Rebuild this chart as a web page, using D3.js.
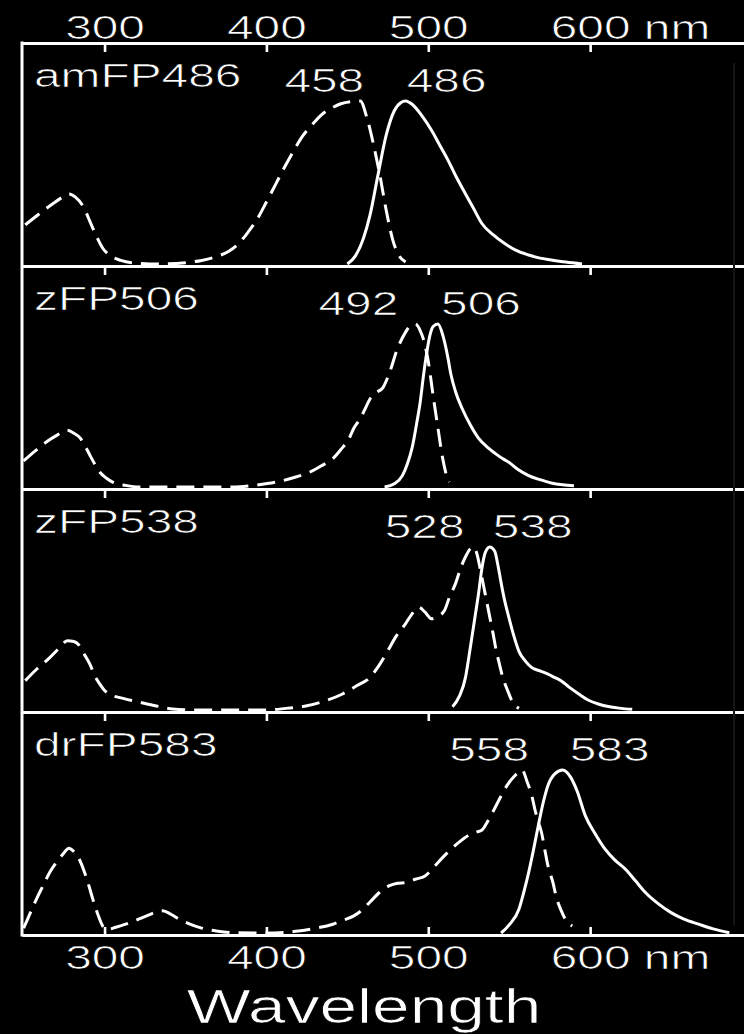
<!DOCTYPE html>
<html>
<head>
<meta charset="utf-8">
<script src="https://cdn.jsdelivr.net/npm/d3@7"></script>
<style>
  html, body { margin: 0; padding: 0; background: #000; }
  svg { display: block; }
</style>
</head>
<body>
<svg id="chart" width="744" height="1034"></svg>
<script>
// ---- data ----------------------------------------------------------
const proteins = ["amFP486", "zFP506", "zFP538", "drFP583"];
const excitationPeaks = [458, 492, 528, 558];
const emissionPeaks = [486, 506, 538, 583];
const axisTicks = [300, 400, 500, 600];
const axisUnit = "nm";
const axisTitle = "Wavelength";

// normalized excitation spectra: [wavelength (nm), relative intensity]
const excitationAmFP486 = [
  [251,0.24],[260,0.31],[268,0.37],[274,0.41],[278,0.43],[282,0.41],[287,0.35],[291,0.26],
  [295,0.17],[299,0.095],[303,0.055],[310,0.022],[318,0.007],[334,0.0],[350,0.008],[360,0.022],
  [369,0.045],[377,0.08],[383,0.127],[389,0.2],[394,0.27],[400,0.38],[406,0.495],[411,0.59],
  [416,0.68],[422,0.78],[429,0.863],[434,0.915],[440,0.955],[446,0.983],[452,0.996],[458,1.0],
  [462,0.9],[466,0.74],[470,0.55],[474,0.33],[478,0.15],[482,0.05],[486,0.012]
];
const excitationZFP506 = [
  [250,0.16],[257,0.22],[264,0.276],[271,0.32],[277,0.348],[281,0.33],[285,0.3],[288,0.25],
  [291,0.194],[294,0.14],[297,0.092],[301,0.055],[305,0.03],[313,0.01],[322,0.0],[342,0.0],
  [360,0.0],[379,0.0],[392,0.01],[406,0.03],[416,0.055],[427,0.092],[434,0.13],[441,0.174],
  [446,0.23],[451,0.296],[454,0.36],[458,0.42],[461,0.48],[464,0.54],[468,0.58],[472,0.61],
  [476,0.7],[481,0.85],[486,0.95],[489,0.99],[492,1.0],[495,0.96],[498,0.87],[500,0.77],
  [503,0.56],[506,0.36],[509,0.17],[512,0.05],[513,0.03]
];
const excitationZFP538 = [
  [251,0.18],[258,0.25],[266,0.32],[272,0.38],[277,0.425],[281,0.42],[284,0.4],[287,0.35],
  [291,0.28],[294,0.21],[297,0.16],[300,0.12],[303,0.098],[312,0.07],[322,0.047],[332,0.025],
  [342,0.006],[355,0.0],[369,0.0],[385,0.0],[400,0.0],[412,0.01],[425,0.026],[436,0.055],
  [447,0.098],[456,0.15],[464,0.2],[470,0.28],[475,0.364],[480,0.45],[486,0.53],[490,0.59],
  [494,0.63],[498,0.6],[502,0.56],[506,0.575],[510,0.61],[513,0.69],[517,0.78],[520,0.87],
  [523,0.94],[526,0.99],[528,1.0],[530,0.96],[532,0.87],[534,0.77],[536,0.67],[538,0.57],
  [540,0.47],[542,0.364],[544,0.28],[546,0.2],[549,0.12],[552,0.05],[556,0.01]
];
const excitationDrFP583 = [
  [250,0.03],[254,0.12],[258,0.21],[262,0.29],[266,0.37],[270,0.43],[274,0.48],[278,0.52],
  [281,0.5],[284,0.46],[287,0.39],[290,0.3],[293,0.2],[296,0.11],[299,0.04],[301,0.02],
  [307,0.035],[313,0.054],[320,0.08],[326,0.105],[331,0.125],[336,0.136],[341,0.115],[346,0.085],
  [352,0.058],[359,0.033],[369,0.012],[379,0.002],[400,0.0],[420,0.012],[431,0.03],[441,0.054],
  [448,0.08],[454,0.105],[459,0.14],[464,0.19],[470,0.25],[476,0.29],[481,0.305],[486,0.31],
  [492,0.33],[498,0.35],[504,0.41],[510,0.475],[517,0.54],[525,0.6],[530,0.62],[533,0.63],
  [537,0.69],[541,0.764],[545,0.84],[549,0.91],[553,0.96],[558,1.0],[561,0.93],[564,0.84],
  [566,0.753],[568,0.68],[570,0.615],[572,0.51],[574,0.41],[577,0.31],[579,0.224],[582,0.14],
  [585,0.08],[589,0.043]
];

// normalized emission spectra: [wavelength (nm), relative intensity]
const emissionAmFP486 = [
  [450,0.0],[455,0.05],[460,0.16],[464,0.3],[469,0.55],[474,0.79],[479,0.94],[483,0.99],
  [486,1.0],[490,0.98],[496,0.91],[502,0.82],[507,0.73],[512,0.64],[517,0.54],[523,0.43],
  [528,0.34],[533,0.25],[540,0.18],[547,0.127],[554,0.085],[562,0.055],[569,0.036],[576,0.025],
  [585,0.012],[595,0.0]
];
const emissionZFP506 = [
  [473,0.0],[479,0.02],[484,0.07],[487,0.14],[490,0.24],[493,0.4],[495,0.52],[497,0.68],
  [499,0.82],[501,0.93],[503,0.985],[506,1.0],[509,0.93],[512,0.8],[514,0.69],[517,0.58],
  [521,0.48],[526,0.38],[531,0.3],[537,0.24],[543,0.194],[547,0.168],[550,0.15],[555,0.11],
  [562,0.07],[569,0.045],[576,0.025],[583,0.014],[590,0.008]
];
const emissionZFP538 = [
  [515,0.02],[519,0.08],[523,0.2],[525,0.32],[527,0.45],[529,0.58],[531,0.71],[533,0.86],
  [535,0.96],[538,1.0],[541,0.975],[543,0.89],[545,0.78],[547,0.68],[550,0.56],[553,0.45],
  [556,0.36],[560,0.3],[564,0.26],[569,0.24],[574,0.22],[578,0.2],[582,0.18],[587,0.14],
  [593,0.098],[599,0.06],[605,0.037],[612,0.02],[619,0.01],[626,0.004]
];
const emissionDrFP583 = [
  [545,0.0],[550,0.05],[556,0.146],[559,0.25],[562,0.37],[565,0.51],[568,0.66],[571,0.8],
  [574,0.907],[578,0.975],[583,1.0],[588,0.955],[592,0.87],[597,0.72],[603,0.61],[609,0.517],
  [615,0.45],[622,0.39],[628,0.32],[634,0.25],[642,0.18],[650,0.125],[658,0.085],[667,0.054],
  [676,0.025],[686,0.002]
];

const excitationSpectra = [excitationAmFP486, excitationZFP506, excitationZFP538, excitationDrFP583];
const emissionSpectra = [emissionAmFP486, emissionZFP506, emissionZFP538, emissionDrFP583];

// ---- layout ----------------------------------------------------------
const W = 744, H = 1034;
const frameLeft = 22, frameTop = 43, panelH = 223;
const nPanels = proteins.length;
const frameBottom = frameTop + panelH * nPanels;
const ink = "#ffffff";
const fontFamily = "'Liberation Sans', Arial, Helvetica, sans-serif";
// the lettering is set wide: glyphs stretched horizontally, with a thin
// black outline painted over them to keep the strokes light
const labelSize = 33, labelStretch = 1.45;
const titleSize = 49, titleStretch = 1.38;
// horizontal offset of each peak label centre from its peak (excitation, emission)
const peakLabelShift = [[-36, 41], [-57, 43], [-49, 43], [-33, 47]];

const svg = d3.select("#chart");
svg.append("rect").attr("width", W).attr("height", H).attr("fill", "#000");

const x = d3.scaleLinear().domain([249, 700]).range([frameLeft, 752]);

function lettering(sel, size) {
  sel.attr("fill", ink)
    .attr("font-family", fontFamily)
    .attr("font-size", size)
    .attr("stroke", "#000")
    .attr("stroke-width", 0.7)
    .attr("paint-order", "fill");
}

function styleAxis(g) {
  g.select(".domain").attr("stroke", ink).attr("stroke-width", 3);
  g.selectAll(".tick line").attr("stroke", ink).attr("stroke-width", 2.6);
}

function styleLabels(g) {
  g.selectAll("text")
    .call(lettering, labelSize)
    .attr("transform", `scale(${labelStretch},1)`);
}

// the unit is appended after the last tick value, with the number kept centred on its tick
function addUnit(g) {
  g.selectAll(".tick text").filter(d => d === axisTicks[axisTicks.length - 1]).each(function () {
    const t = d3.select(this);
    const w = this.getComputedTextLength();
    t.attr("text-anchor", "start").attr("x", -w / 2).text(t.text() + " " + axisUnit);
  });
}

const line = d3.line().curve(d3.curveMonotoneX);

proteins.forEach((name, i) => {
  const top = frameTop + i * panelH;
  const y = d3.scaleLinear().domain([0, 1]).range([top + 221, top + 58]);
  const panel = svg.append("g").attr("class", "panel");

  // upper edge of the panel with inward ticks
  panel.append("g")
    .attr("transform", `translate(0,${top})`)
    .call(d3.axisBottom(x).tickValues(axisTicks).tickSize(9).tickSizeOuter(0).tickFormat(""))
    .call(styleAxis);

  line.x(d => x(d[0])).y(d => y(d[1]));

  // excitation (dashed)
  panel.append("path")
    .datum(excitationSpectra[i])
    .attr("d", line)
    .attr("fill", "none")
    .attr("stroke", ink)
    .attr("stroke-width", 3)
    .attr("stroke-dasharray", "18,9");

  // emission (solid)
  panel.append("path")
    .datum(emissionSpectra[i])
    .attr("d", line)
    .attr("fill", "none")
    .attr("stroke", ink)
    .attr("stroke-width", 3)
    .attr("stroke-linejoin", "round");

  // protein name
  panel.append("text")
    .attr("transform", `translate(${frameLeft + 12},${top + 44}) scale(${labelStretch},1)`)
    .call(lettering, labelSize)
    .text(name);

  // peak wavelengths
  const peaks = [excitationPeaks[i], emissionPeaks[i]];
  peaks.forEach((p, k) => {
    panel.append("text")
      .attr("transform", `translate(${x(p) + peakLabelShift[i][k]},${top + 48.5}) scale(${labelStretch},1)`)
      .attr("text-anchor", "middle")
      .call(lettering, labelSize)
      .text(p);
  });
});

// bottom edge with inward ticks
svg.append("g")
  .attr("transform", `translate(0,${frameBottom})`)
  .call(d3.axisTop(x).tickValues(axisTicks).tickSize(8).tickSizeOuter(0).tickFormat(""))
  .call(styleAxis);

// left edge of the frame
svg.append("line")
  .attr("x1", frameLeft).attr("x2", frameLeft)
  .attr("y1", frameTop - 1.5).attr("y2", frameBottom + 1.5)
  .attr("stroke", ink).attr("stroke-width", 3);

// faint right edge
svg.append("line")
  .attr("x1", 734).attr("x2", 734)
  .attr("y1", frameTop + 20).attr("y2", frameBottom - 10)
  .attr("stroke", "#161616").attr("stroke-width", 2);

// tick labels above the frame
svg.append("g")
  .attr("transform", `translate(0,${frameTop})`)
  .call(d3.axisTop(x).tickValues(axisTicks).tickSize(0).tickPadding(4))
  .call(g => g.select(".domain").remove())
  .call(styleLabels)
  .call(addUnit);

// tick labels below the frame
svg.append("g")
  .attr("transform", `translate(0,${frameBottom})`)
  .call(d3.axisBottom(x).tickValues(axisTicks).tickSize(0).tickPadding(11))
  .call(g => g.select(".domain").remove())
  .call(styleLabels)
  .call(addUnit);

// axis title
svg.append("text")
  .attr("transform", `translate(364,1023) scale(${titleStretch},1)`)
  .attr("text-anchor", "middle")
  .call(lettering, titleSize)
  .text(axisTitle);
</script>
</body>
</html>
